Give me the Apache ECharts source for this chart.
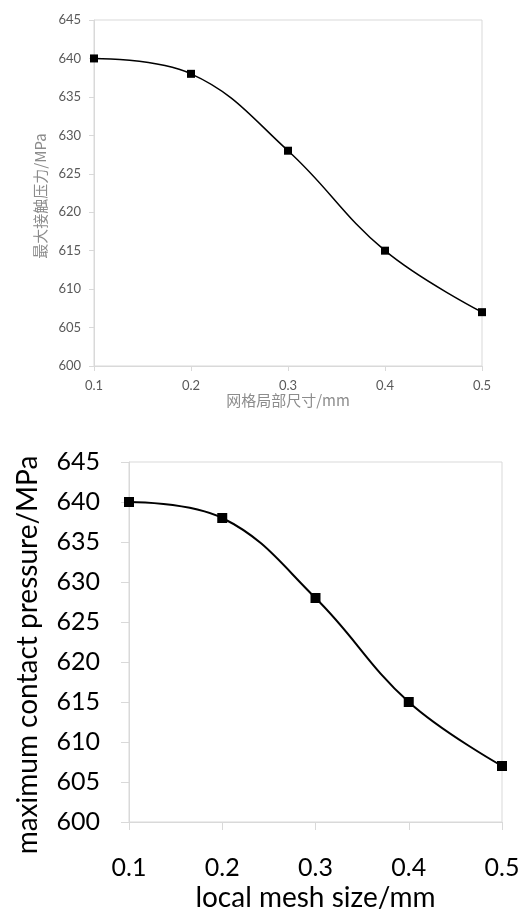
<!DOCTYPE html>
<html>
<head>
<meta charset="utf-8">
<script src="https://cdn.jsdelivr.net/npm/echarts@6/dist/echarts.min.js"></script>
<style>
  html, body { margin: 0; padding: 0; background: #fff; }
  #chart { width: 521px; height: 910px; }
</style>
</head>
<body>
<div id="chart"></div>
<script>
// 网格局部尺寸 (mm)
var meshSizes = ['0.1', '0.2', '0.3', '0.4', '0.5']
// 最大接触压力 (MPa)
var maxPressure = [640, 638, 628, 615, 607]
var yMin = 600
var yMax = 645
var yStep = 5

var chart = echarts.init(document.getElementById('chart'))

var lineGray = '#d9d9d9'

function xAxisOf (idx, o) {
  return {
    type: 'category',
    gridIndex: idx,
    data: meshSizes,
    boundaryGap: false,
    name: o.name,
    nameLocation: 'middle',
    nameGap: o.nameGap,
    nameTextStyle: { color: o.nameColor, fontSize: o.nameSize, fontFamily: o.font },
    axisLine: { lineStyle: { color: lineGray } },
    axisTick: { show: true, length: o.tick, lineStyle: { color: lineGray } },
    axisLabel: { color: o.labelColor, fontSize: o.labelSize, fontFamily: 'Lato', margin: o.xMargin },
    splitLine: { show: false }
  }
}

function yAxisOf (idx, o) {
  return {
    type: 'value',
    gridIndex: idx,
    min: yMin,
    max: yMax,
    interval: yStep,
    name: o.yName,
    nameLocation: 'middle',
    nameGap: o.yNameGap,
    nameTextStyle: { color: o.nameColor, fontSize: o.nameSize, fontFamily: o.font, padding: o.yNamePad },
    axisLine: { show: true, lineStyle: { color: lineGray } },
    axisTick: { show: true, length: o.tick, lineStyle: { color: lineGray } },
    axisLabel: { color: o.labelColor, fontSize: o.labelSize, fontFamily: 'Lato', margin: o.yMargin },
    splitLine: { show: false }
  }
}

// 上图（中文）
var topCfg = {
  name: '网格局部尺寸/mm',
  yName: '最大接触压力/MPa',
  nameGap: 22,
  yNameGap: 40,
  yNamePad: [0, 6, 0, 0],
  nameColor: '#8c8c8c',
  nameSize: 15,
  font: '"Noto Sans CJK SC", sans-serif',
  labelColor: '#595959',
  labelSize: 13,
  xMargin: 13,
  yMargin: 13,
  tick: 5
}
// 下图（英文）
var bottomCfg = {
  name: 'local mesh size/mm',
  yName: 'maximum contact pressure/MPa',
  nameGap: 62,
  yNameGap: 87,
  yNamePad: [0, 26, 0, 0],
  nameColor: '#000',
  nameSize: 28,
  font: 'Lato',
  labelColor: '#000',
  labelSize: 25,
  xMargin: 33,
  yMargin: 29,
  tick: 8
}

chart.setOption({
  animation: false,
  grid: [
    { left: 94, top: 20, width: 388, height: 346, show: true, borderColor: lineGray, borderWidth: 1, outerBoundsMode: 'none' },
    { left: 129, top: 462, width: 373, height: 360, show: true, borderColor: lineGray, borderWidth: 1, outerBoundsMode: 'none' }
  ],
  xAxis: [xAxisOf(0, topCfg), xAxisOf(1, bottomCfg)],
  yAxis: [yAxisOf(0, topCfg), yAxisOf(1, bottomCfg)],
  series: [
    {
      type: 'line',
      xAxisIndex: 0,
      yAxisIndex: 0,
      data: maxPressure,
      smooth: 0.4,
      symbol: 'rect',
      symbolSize: 8,
      lineStyle: { color: '#000', width: 1.5 },
      itemStyle: { color: '#000' }
    },
    {
      type: 'line',
      xAxisIndex: 1,
      yAxisIndex: 1,
      data: maxPressure,
      smooth: 0.4,
      symbol: 'rect',
      symbolSize: 10,
      lineStyle: { color: '#000', width: 2 },
      itemStyle: { color: '#000' }
    }
  ]
})
</script>
</body>
</html>
